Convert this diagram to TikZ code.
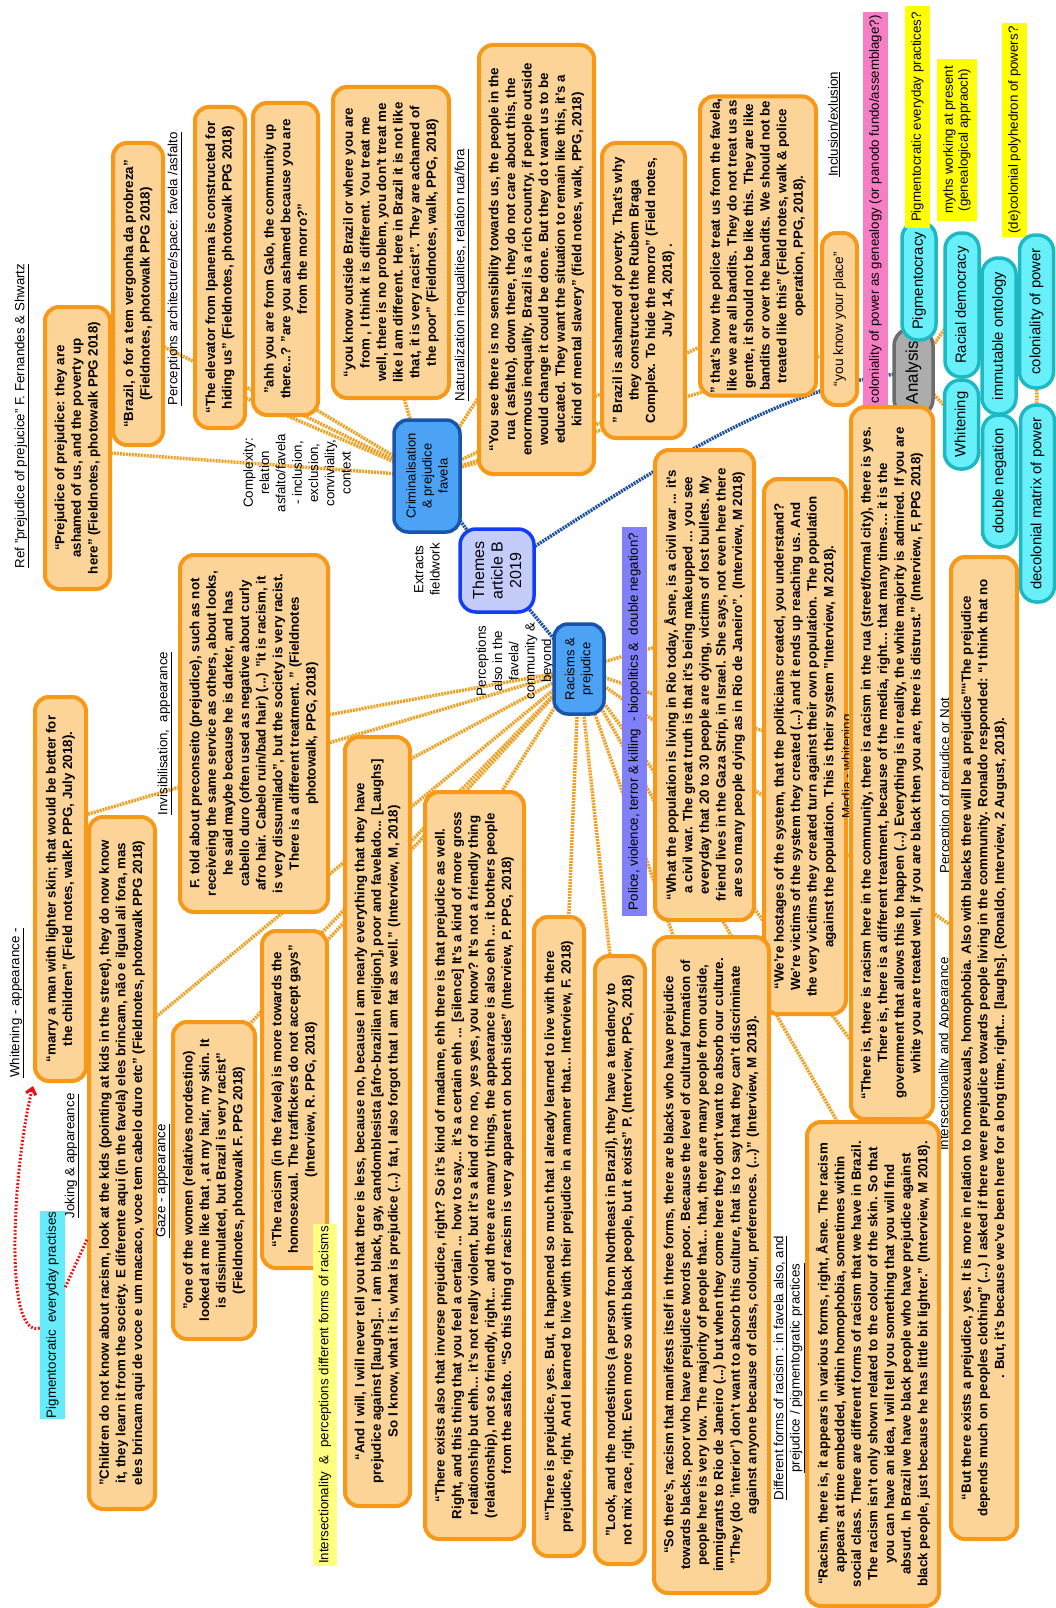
\documentclass[tikz,border=0pt]{standalone}
\usepackage{fontspec}
\setmainfont{Liberation Sans}
\usetikzlibrary{arrows.meta}
\definecolor{boxfill}{RGB}{252,212,152}
\definecolor{boxline}{RGB}{248,152,24}
\definecolor{conn}{RGB}{240,160,32}
\definecolor{hubfill}{RGB}{76,162,244}
\definecolor{hubline}{RGB}{24,84,172}
\definecolor{thmfill}{RGB}{196,204,250}
\definecolor{thmline}{RGB}{16,60,250}
\definecolor{bluecon}{RGB}{28,82,160}
\definecolor{cyfill}{RGB}{104,240,250}
\definecolor{cyline}{RGB}{30,184,194}
\definecolor{gyfill}{RGB}{172,172,172}
\definecolor{gyline}{RGB}{108,108,108}
\definecolor{pinkbar}{RGB}{246,126,196}
\definecolor{yelbar}{RGB}{255,255,0}
\definecolor{paleyel}{RGB}{255,255,128}
\definecolor{purpbar}{RGB}{128,128,248}
\definecolor{cybar}{RGB}{100,236,250}
\definecolor{redarr}{RGB}{232,16,16}
\pgfdeclarelayer{bg}
\pgfsetlayers{bg,main}
\tikzset{
  qbox/.style={draw=boxline, fill=boxfill, line width=4pt, rounded corners=14pt, rotate=90, align=center, inner sep=2pt, font=\fontsize{13.3}{16.6}\selectfont\bfseries},
  lbl/.style={rotate=90, align=center, inner sep=0pt, font=\fontsize{13.3}{16.3}\selectfont},
  hubnode/.style={draw=hubline, fill=hubfill, line width=3.5pt, rounded corners=14pt, rotate=90, align=center, inner sep=2pt, font=\fontsize{13}{16}\selectfont},
  thmnode/.style={draw=thmline, fill=thmfill, line width=3.5pt, rounded corners=16pt, rotate=90, align=center, inner sep=2pt, font=\fontsize{16}{18.5}\selectfont},
  cnode/.style={draw=cyline, fill=cyfill, line width=3.5pt, rounded corners=16pt, rotate=90, inner sep=2pt, minimum height=34pt, font=\fontsize{14.8}{17}\selectfont},
  gnode/.style={draw=gyline, fill=gyfill, line width=3.5pt, rounded corners=18pt, rotate=90, inner sep=2pt, font=\fontsize{17}{20}\selectfont},
  tagbar/.style={rotate=90, align=center, inner sep=0pt, font=\fontsize{13.3}{15}\selectfont},
  oconn/.style={draw=conn, line width=3.5pt, dash pattern=on 2pt off 1pt},
  bconn/.style={draw=bluecon, line width=3.5pt, dash pattern=on 2pt off 1pt},
  rconn/.style={draw=redarr, line width=3pt, dash pattern=on 1.8pt off 1.8pt},
}
\begin{document}
\begin{tikzpicture}[x=1pt,y=-1pt]
\useasboundingbox (0,0) rectangle (1056,1608);
\begin{pgfonlayer}{bg}
\fill[white] (0,0) rectangle (1056,1608);
\end{pgfonlayer}

% ---------- labels (top part)
\node[lbl] (refL) at (22,416) {\underline{Ref "prejudice of prejucice" F. Fernandes \& Shwartz}};
\node[lbl] (perL) at (175,269) {\underline{Perceptions architecture/space: favela /asfalto}};
\node[lbl] (natL) at (462,275) {\underline{Naturalization inequalities, relation rua/fora}};
\node[lbl] (incL) at (834,124.5) {\underline{Inclusion/exlusion}};
\node[lbl] (cmpL) at (297,473) {Complexity:\\relation\\asfalto/favela\\- inclusion,\\exclusion,\\conviviality,\\context};
\node[lbl] (extL) at (427,569.5) {Extracts\\fieldwork};
\node[lbl] (pcpL) at (515,661) {Perceptions\\also in the\\favela/\\community \&\\beyond};

% ---------- quote boxes (top part)
\node[qbox, minimum width=282pt, minimum height=65pt] (b1) at (77.5,448) {“Prejudice of prejudice: they are\\ashamed of us, and the poverty up\\here” (Fieldnotes, photowalk PPG 2018)};
\node[qbox, minimum width=302pt, minimum height=50pt] (b2) at (138,294) {“Brazil, o for a tem vergonha da probreza”\\(Fieldnotes, photowalk PPG 2018)};
\node[qbox, minimum width=321pt, minimum height=50pt] (b3) at (220,267.5) {“The elevator from Ipanema is constructed for\\hiding us” (Fieldnotes, photowalk PPG 2018)};
\node[qbox, minimum width=312pt, minimum height=65pt] (b4) at (285.5,259) {"ahh you are from Galo, the community up\\there...? "are you ashamed because you are\\from the morro?"};
\node[qbox, minimum width=311pt, minimum height=116pt] (b5) at (391,242.5) {“you know outside Brazil or where you are\\from , I think it is different. You treat me\\well, there is no problem, you don't treat me\\like I am different. Here in Brazil it is not like\\that, it is very racist”. They are achamed of\\the poor” (Fieldnotes, walk, PPG, 2018)};
\node[qbox, minimum width=429pt, minimum height=115pt] (b6) at (536.5,259.5) {“You see there is no sensibility towards us, the people in the\\rua ( asfalto), down there, they do not care about this, the\\enormous inequality. Brazil is a rich country, if people outside\\would change it could be done. But they do t want us to be\\educated. They want the situation to remain like this, it's a\\kind of mental slavery” (field notes, walk, PPG, 2018)};
\node[qbox, minimum width=295pt, minimum height=83pt] (b7) at (643.5,290.5) {” Brazil is ashamed of poverty. That's why\\they constructed the Rubem Braga\\Complex. To hide the morro” (Field notes,\\July 14, 2018) .};
\node[qbox, minimum width=298pt, minimum height=116pt] (b8) at (758,246) {” that's how the police treat us from the favela,\\like we are all bandits. They do not treat us as\\gente, it should not be like this. They are like\\bandits or over the bandits. We should not be\\treated like this” (Field notes, walk \& police\\operation, PPG, 2018).};
\node[qbox, minimum width=172pt, minimum height=35pt, font=\fontsize{13.7}{16}\selectfont] (b9) at (839.5,319) {“you know your place”};

% ---------- analysis cluster
\node[tagbar, fill=pinkbar, minimum width=395pt, minimum height=25pt] (pinkB) at (875.5,209.5) {coloniality of power as genealogy (or panodo fundo/assemblage?)};
\node[gnode, minimum width=89pt, minimum height=39pt] (anl) at (913.5,372.5) {Analysis};
\node[cnode, minimum width=118pt] (pigm) at (919,281) {Pigmentocracy};
\node[tagbar, fill=yelbar, minimum width=222pt, minimum height=25pt] (yel1) at (917.5,117) {Pigmentocratic everyday practices?};
\node[tagbar, fill=yelbar, minimum width=162pt, minimum height=40pt] (yel2) at (957,140) {myths working at present\\(genealogical appraoch)};
\node[tagbar, fill=yelbar, minimum width=214pt, minimum height=25pt] (yel3) at (1014.5,130) {(de)colonial polyhedron of powers?};
\node[cnode, minimum width=144pt] (racd) at (962,305) {Racial democracy};
\node[cnode, minimum width=89pt] (whit) at (961.5,424.5) {Whitening};
\node[cnode, minimum width=156pt] (immo) at (999,336) {immutable ontology};
\node[cnode, minimum width=153pt] (colp) at (1036.5,311.5) {coloniality of power};
\node[cnode, minimum width=132pt] (dneg) at (999.5,481) {double negation};
\node[cnode, minimum width=197pt] (decm) at (1037.5,503.5) {decolonial matrix of power};

% ---------- hubs
\node[hubnode, minimum width=112pt, minimum height=66pt] (crim) at (427,476) {Criminalisation\\\& prejudice\\favela};
\node[thmnode, minimum width=83pt, minimum height=74pt] (thm) at (497,570.5) {Themes\\article B\\2019};
\node[hubnode, minimum width=90pt, minimum height=50pt] (racp) at (579,669) {Racisms \&\\prejudice};

% ---------- right-middle part
\node[tagbar, fill=purpbar, minimum width=389pt, minimum height=25pt] (purB) at (634.5,721.5) {Police, violence, terror \& killing \ - biopolitics \& \ double negation?};
\node[qbox, minimum width=470pt, minimum height=99pt] (b10) at (704.5,685) {“What the population is living in Rio today, Åsne, is a civil war ... it's\\a civil war. The great truth is that it's being makeupped ... you see\\everyday that 20 to 30 people are dying, victims of lost bullets. My\\friend lives in the Gaza Strip, in Israel. She says, not even here there\\are so many people dying as in Rio de Janeiro”. (Interview, M 2018)};
\node[qbox, minimum width=535pt, minimum height=82pt] (b11) at (805,746.5) {“We're hostages of the system, that the politicians created, you understand?\\We're victims of the system they created (...) and it ends up reaching us. And\\the very victims they created turn against their own population. The population\\against the population. This is their system "Interview, M 2018).};
\node[lbl] (medL) at (849,766.5) {\underline{Media - whitening}};
\node[qbox, minimum width=712pt, minimum height=82pt] (b12) at (892,763) {“There is, there is racism here in the community, there is racism in the rua (street/formal city), there is yes.\\There is, there is a different treatment, because of the media, right… that many times… it is the\\government that allows this to happen (...) Everything is in reality, the white majority is admired. If you are\\white you are treated well, if you are black then you are, there is distrust.” (Interview, F, PPG 2018)};
\node[lbl] (prcL) at (947,785.5) {\underline{Perception of prejudice or Not}};
\node[lbl] (itsL) at (946,1054) {\underline{Intersectionality and Appearance}};
\node[qbox, minimum width=982pt, minimum height=66pt] (b13) at (984,1048) {“But there exists a prejudice, yes. It is more in relation to homosexuals, homophobia. Also with blacks there will be a prejudice”“The prejudice\\depends much on peoples clothing” (...) I asked if there were prejudice towards people living in the community. Ronaldo responded: “I think that no\\. But, it's because we've been here for a long time, right... [laughs]. (Ronaldo, Interview, 2 August, 2018).};

% ---------- left / bottom part
\node[lbl] (whtL) at (17,1003) {\underline{Whitening - appearance -}};
\node[qbox, minimum width=384pt, minimum height=51pt] (b14) at (60.5,889) {“marry a man with lighter skin; that would be better for\\the children” (Field notes, walkP. PPG, July 2018).};
\node[lbl] (jokL) at (72,1156) {\underline{Joking \& appareance}};
\node[tagbar, fill=cybar, minimum width=208pt, minimum height=25pt] (cyB) at (52.5,1315) {Pigmentocratic \ everyday practises};
\node[qbox, minimum width=692pt, minimum height=66pt] (b15) at (122,1163) {"Children do not know about racism, look at the kids (pointing at kids in the street), they do now know\\it, they learn it from the society. E diferente aqui (in the favela) eles brincam, não e ilgual ali fora, mas\\eles brincam aqui de voce e um macaco, voce tem cabelo duro etc” (Fieldnotes, photowalk PPG 2018)};
\node[lbl] (invL) at (165,733.5) {\underline{Invisibilisation, \ appearance}};
\node[lbl] (gazL) at (163,1181) {\underline{Gaze - appearance}};
\node[qbox, minimum width=317pt, minimum height=82pt] (b16) at (214,1180.5) {"one of the women (relatives nordestino)\\looked at me like that , at my hair, my skin. It\\is dissimulated, but Brazil is very racist"\\(Fieldnotes, photowalk F. PPG 2018)};
\node[qbox, minimum width=357pt, minimum height=148pt] (b17) at (254,733.5) {F. told about preconseito (prejudice), such as not\\receiveing the same service as others, about looks,\\he said maybe because he is darker, and has\\cabello duro (often used as negative about curly\\afro hair. Cabelo ruin/bad hair) (...) "it is racism, it\\is very dissumilado", but the society is very racist.\\There is a different treatment. " (Fieldnotes\\photowalk, PPG, 2018)};
\node[qbox, minimum width=337pt, minimum height=65pt] (b18) at (294.5,1099.5) {“The racism (in the favela) is more towards the\\homosexual. The traffickers do not accept gays”\\(Interview, R. PPG, 2018)};
\node[tagbar, fill=paleyel, minimum width=342pt, minimum height=24pt] (yelB) at (325,1395) {Intersectionality \ \& \ perceptions different forms of racisms};
\node[qbox, minimum width=769pt, minimum height=65pt] (b19) at (377.5,1121.5) {“And I will, I will never tell you that there is less, because no, because I am nearly everything that they have\\prejudice against [laughs]... I am black, gay, candomblesista [afro-brazilian religion], poor and favelado... [Laughs]\\So I know, what it is, what is prejudice (...) fat, I also forgot that I am fat as well.” (Interview, M, 2018)};
\node[qbox, minimum width=747pt, minimum height=99pt] (b20) at (474.5,1165.5) {“There exists also that inverse prejudice, right? So it's kind of madame, ehh there is that prejudice as well.\\Right, and this thing that you feel a certain ... how to say... it's a certain ehh ... [silence] It's a kind of more gross\\relationship but ehh... it's not really violent, but it's a kind of no no, yes yes, you know? It's not a friendly thing\\(relationship), not so friendly, right... and there are many things, the appearance is also ehh ... it bothers people\\from the asfalto. “So this thing of racism is very apparent on both sides” (Interview, P. PPG, 2018)};
\node[qbox, minimum width=639pt, minimum height=50pt] (b21) at (559,1236.5) {“‘There is prejudice, yes. But, it happened so much that I already learned to live with there\\prejudice, right. And I learned to live with their prejudice in a manner that... Interview, F. 2018)};
\node[qbox, minimum width=608pt, minimum height=50pt] (b22) at (620,1260) {"Look, and the nordestinos (a person from Northeast in Brazil), they have a tendency to\\not mix race, right. Even more so with black people, but it exists" P. (Interview, PPG, 2018)};
\node[qbox, minimum width=656pt, minimum height=115pt] (b23) at (711.5,1265) {“So there's, racism that manifests itself in three forms, there are blacks who have prejudice\\towards blacks, poor who have prejudice twords poor. Because the level of cultural formation of\\people here is very low. The majority of people that... that, there are many people from outside,\\immigrants to Rio de Janeiro (...) but when they come here they don't want to absorb our culture.\\"They (do 'interior') don't want to absorb this culture, that is to say that they can't discriminate\\against anyone because of class, colour, preferences. (...)” (Interview, M 2018).};
\node[lbl] (difL) at (789,1368) {\underline{Different forms of racism : in favela also, and}\\\underline{prejudice / pigmentogratic practices}};
\node[qbox, minimum width=484pt, minimum height=132pt] (b24) at (873,1364) {“Racism, there is, it appears in various forms, right, Åsne. The racism\\appears at time embedded, within homophobia, sometimes within\\social class. There are different forms of racism that we have in Brazil.\\The racism isn't only shown related to the colour of the skin. So that\\you can have an idea, I will tell you something that you will find\\absurd. In Brazil we have black people who have prejudice against\\black people, just because he has little bit lighter.” (Interview, M 2018).};

% ---------- aim points of connectors (hidden inside the target boxes)
\coordinate (a1) at (95,452);
\coordinate (a2) at (150,340);
\coordinate (a3) at (232,392);
\coordinate (a4) at (300,400);
\coordinate (a5) at (400,385);
\coordinate (a6) at (490,380);
\coordinate (a7) at (640,420);
\coordinate (a8) at (725,335);
\coordinate (a9) at (840,350);
\coordinate (r1) at (75,818);
\coordinate (r2) at (140,1030);
\coordinate (r3) at (300,720);
\coordinate (r4) at (235,1040);
\coordinate (r5) at (310,945);
\coordinate (r6) at (390,770);
\coordinate (r7) at (490,810);
\coordinate (r8) at (568,935);
\coordinate (r9) at (612,975);
\coordinate (r10) at (680,955);
\coordinate (r11) at (845,1135);
\coordinate (r12) at (865,1060);
\coordinate (r13) at (965,935);
\coordinate (r14) at (790,740);
\coordinate (r15) at (680,640);
\coordinate (rtip) at (33,1086);

\begin{pgfonlayer}{bg}
\foreach \t in {a1,a2,a3,a4,a5,a6,a7,a8,a9} \draw[oconn] (crim.center) -- (\t);
\foreach \t in {r1,r2,r3,r4,r5,r6,r7,r8,r9,r10,r11,r12,r13,r14,r15} \draw[oconn] (racp.center) -- (\t);
\draw[oconn] (anl.center) -- (racd.center);
\draw[oconn] (anl.center) -- (whit.center);
\draw[oconn] (racd.center) -- (immo.center);
\draw[oconn] (immo.center) -- (colp.center);
\draw[oconn] (colp.center) -- (decm.center);
\draw[oconn] (whit.center) -- (dneg.center);
\draw[bconn] (thm.center) -- (crim.center);
\draw[bconn] (thm.center) -- (racp.center);
\draw[bconn] (thm.center) .. controls (640,480) and (780,380) .. (anl.center);
\end{pgfonlayer}

\draw[rconn, -{Straight Barb[length=6pt,width=10pt]}] ([yshift=-13pt]cyB.north) .. controls (2,1340) and (14,1160) .. (rtip);
\draw[rconn] (cyB) -- (b15);
\end{tikzpicture}
\end{document}
